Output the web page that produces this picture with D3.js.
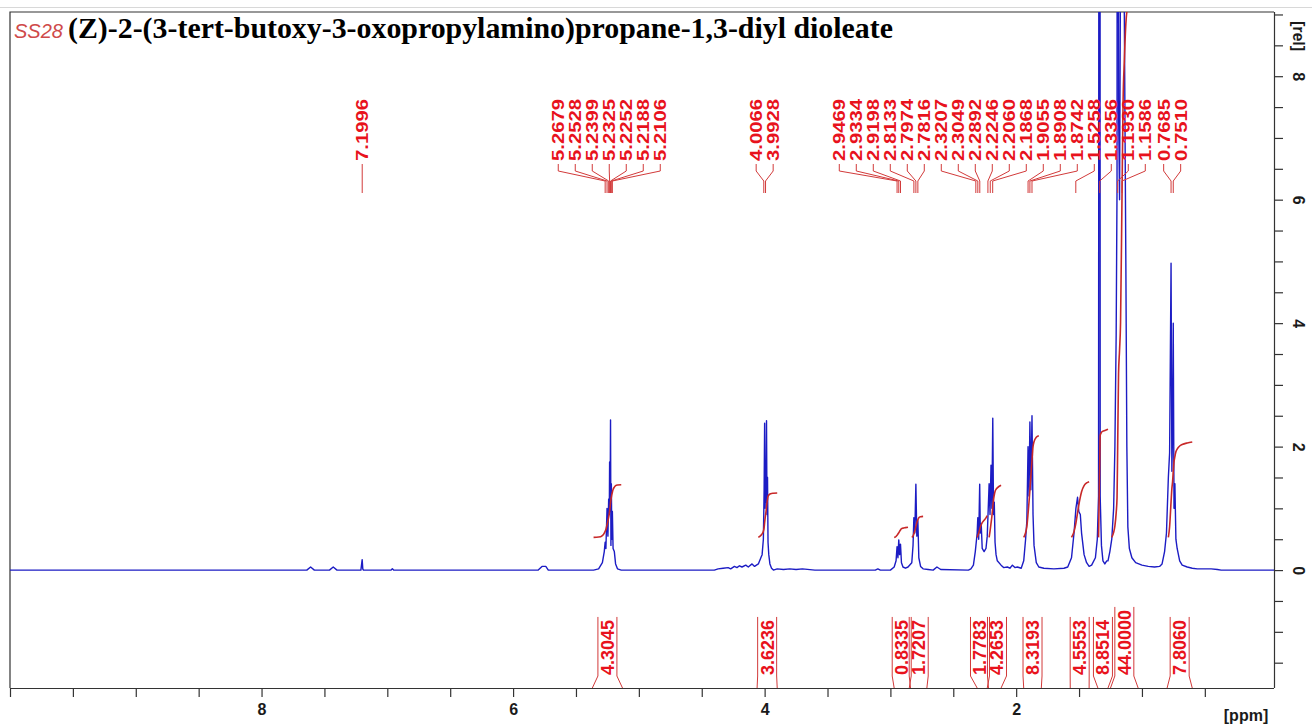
<!DOCTYPE html>
<html>
<head>
<meta charset="utf-8">
<script src="https://cdn.jsdelivr.net/npm/d3@7"></script>
<style>
  body { margin: 0; background: #fff; }
  svg { display: block; }
</style>
</head>
<body>
<svg id="chart" width="1312" height="725"></svg>
<script>
// spectrum trace: [ppm, intensity (rel)]
const spectrum = [
    [10.0, 0], [7.64, 0], [7.61, 0.05], [7.58, 0], [7.46, 0], [7.43, 0.05], [7.40, 0],
    [7.21, 0], [7.2, 0.17], [7.195, 0.02], [7.19, 0], [6.97, 0], [6.96, 0.02], [6.95, 0],
    [5.80, 0], [5.77, 0.06], [5.74, 0.06], [5.72, 0],
    [5.36, 0], [5.32, 0.02], [5.29, 0.12], [5.275, 0.3], [5.268, 0.45], [5.262, 0.35], [5.253, 1.0],
    [5.246, 0.55], [5.240, 1.15], [5.235, 0.9], [5.2325, 1.75], [5.229, 0.95], [5.2252, 2.43],
    [5.222, 0.4], [5.2188, 1.4], [5.215, 0.5], [5.2106, 0.95], [5.205, 0.35], [5.195, 0.3],
    [5.185, 0.1], [5.17, 0.02], [5.14, 0],
    [4.40, 0], [4.37, 0.02], [4.33, 0.03], [4.29, 0.04], [4.27, 0.02], [4.24, 0.06], [4.22, 0.04],
    [4.20, 0.07], [4.18, 0.05], [4.15, 0.08], [4.13, 0.05], [4.10, 0.1], [4.08, 0.06], [4.05, 0.1],
    [4.03, 0.2], [4.02, 0.25], [4.01, 0.5], [4.004, 1.3], [4.0, 2.38], [3.996, 1.0], [3.992, 1.7],
    [3.989, 1.1], [3.985, 2.42], [3.981, 0.9], [3.977, 1.5], [3.973, 0.45], [3.967, 0.25],
    [3.958, 0.1], [3.945, 0.03], [3.93, 0], [3.90, 0.02], [3.85, 0.01], [3.80, 0.02], [3.75, 0.01],
    [3.70, 0.02], [3.6, 0], [3.12, 0], [3.10, 0.02], [3.08, 0],
    [3.00, 0], [2.97, 0.05], [2.955, 0.15], [2.947, 0.38], [2.940, 0.2], [2.9334, 0.49], [2.927, 0.25],
    [2.9198, 0.42], [2.912, 0.12], [2.90, 0.05], [2.88, 0.03], [2.86, 0.05],
    [2.83, 0.12], [2.82, 0.4], [2.8133, 0.85], [2.806, 0.6], [2.7974, 1.39], [2.790, 0.55],
    [2.7816, 0.8], [2.774, 0.2], [2.76, 0.06], [2.74, 0.02], [2.70, 0.01],
    [2.66, 0], [2.63, 0.05], [2.60, 0.01], [2.38, 0],
    [2.36, 0.02], [2.34, 0.08], [2.325, 0.3], [2.31, 0.6], [2.305, 0.85], [2.298, 0.5],
    [2.29, 1.39], [2.285, 0.6], [2.278, 0.75], [2.27, 0.35], [2.255, 0.3], [2.24, 0.35],
    [2.23, 0.55], [2.215, 1.4], [2.208, 0.9], [2.20, 1.7], [2.193, 1.0], [2.186, 2.46],
    [2.18, 0.9], [2.174, 1.1], [2.168, 0.45], [2.16, 0.25], [2.15, 0.15], [2.12, 0.08],
    [2.10, 0.04], [2.07, 0.05], [2.05, 0.03], [2.03, 0.08], [2.01, 0.04], [1.99, 0.05], [1.96, 0.03],
    [1.94, 0.15], [1.925, 0.5], [1.915, 0.8], [1.9055, 2.0], [1.898, 1.2], [1.8908, 2.4],
    [1.883, 1.3], [1.8742, 2.5], [1.866, 0.9], [1.858, 0.4], [1.84, 0.12], [1.82, 0.05],
    [1.78, 0.03], [1.70, 0.02], [1.62, 0.03],
    [1.59, 0.05], [1.56, 0.2], [1.54, 0.6], [1.525, 1.0], [1.512, 1.18], [1.502, 0.95],
    [1.49, 0.9], [1.48, 0.6], [1.46, 0.25], [1.44, 0.12], [1.42, 0.06], [1.40, 0.08],
    [1.37, 0.2], [1.355, 0.5], [1.345, 1.2], [1.3356, 40], [1.332, 1.2], [1.322, 0.4],
    [1.31, 0.15], [1.295, 0.1], [1.28, 0.15],
    [1.27, 0.15], [1.255, 0.3], [1.24, 0.5], [1.225, 1.0], [1.215, 2.0], [1.205, 3.8],
    [1.198, 6.2], [1.193, 40], [1.186, 7.5], [1.178, 6.0], [1.170, 10], [1.1586, 40],
    [1.150, 10], [1.14, 9], [1.128, 5], [1.12, 2.0], [1.112, 0.7], [1.10, 0.35], [1.08, 0.2],
    [1.05, 0.12], [1.0, 0.08], [0.95, 0.06], [0.90, 0.05], [0.86, 0.06],
    [0.84, 0.1], [0.82, 0.3], [0.805, 0.6], [0.79, 1.5], [0.78, 1.9], [0.7685, 4.97],
    [0.762, 1.6], [0.756, 2.3], [0.7510, 4.0], [0.745, 1.0], [0.738, 1.4], [0.73, 0.5],
    [0.72, 0.35], [0.70, 0.15], [0.68, 0.08], [0.64, 0.05], [0.60, 0.03], [0.56, 0.02],
    [0.45, 0.02], [0.40, 0.01], [0.37, 0], [-0.05, 0]
]

const peakLabels = [7.1996, 5.2679, 5.2528, 5.2399, 5.2325, 5.2252, 5.2188, 5.2106,
    4.0066, 3.9928, 2.9469, 2.9334, 2.9198, 2.8133, 2.7974, 2.7816, 2.3207, 2.3049,
    2.2892, 2.2246, 2.2060, 2.1868, 1.9055, 1.8908, 1.8742, 1.5258, 1.3356, 1.1930,
    1.1586, 0.7685, 0.7510]

const integralFrom = [5.37, 4.06, 2.97, 2.84, 2.31, 2.22, 1.94, 1.57, 1.35, 1.25, 0.80]
const integralTo = [5.13, 3.90, 2.85, 2.71, 2.23, 2.12, 1.80, 1.42, 1.27, 1.03, 0.60]
const integralValues = [4.3045, 3.6236, 0.8335, 1.7207, 1.7783, 4.2653, 8.3193, 4.5553, 8.8514, 44.0000, 7.8060]

const ppmTicks = d3.range(10, 0.49, -0.5)
const ppmLabels = [8, 6, 4, 2]
const relTicks = d3.range(-1.5, 9.01, 0.5)
const relLabels = [0, 2, 4, 6, 8]

const title = '(Z)-2-(3-tert-butoxy-3-oxopropylamino)propane-1,3-diyl dioleate'
const sampleName = 'SS28'

const svg = d3.select('#chart')
const pLeft = 10, pRight = 1274, pTop = 12, pBottom = 688

const x = d3.scaleLinear().domain([10.0, -0.05]).range([pLeft, pRight])
const y = d3.scaleLinear().domain([-1.91, 9.04]).range([pBottom, pTop])

svg.append('rect').attr('width', 1312).attr('height', 725).attr('fill', '#fff')
svg.append('line').attr('x1', 0).attr('x2', 1312).attr('y1', 7.5).attr('y2', 7.5)
    .attr('stroke', '#d8d8d8').attr('stroke-width', 1)

svg.append('defs').append('clipPath').attr('id', 'plotclip')
    .append('rect').attr('x', pLeft).attr('y', pTop).attr('width', pRight - pLeft).attr('height', pBottom - pTop)

// frame
svg.append('path')
    .attr('d', `M${pLeft},${pBottom}V${pTop}H${pRight}`)
    .attr('fill', 'none').attr('stroke', '#333').attr('stroke-width', 1.2)

// spectrum
const plot = svg.append('g').attr('clip-path', 'url(#plotclip)')
plot.append('path')
    .datum(spectrum)
    .attr('d', d3.line().x(d => x(d[0])).y(d => y(d[1])))
    .attr('fill', 'none')
    .attr('stroke', '#1c1cc4')
    .attr('stroke-width', 1.4)
    .attr('stroke-linejoin', 'round')

// integral curves (cumulative area of the trace)
const intOffset = 0.53, intScale = 0.198
integralValues.forEach((val, i) => {
    const pts = spectrum.filter(d => d[0] <= integralFrom[i] && d[0] >= integralTo[i])
    const cum = [0]
    for (let k = 1; k < pts.length; k++) {
        cum.push(cum[k - 1] + (pts[k - 1][0] - pts[k][0]) * (pts[k - 1][1] + pts[k][1]) / 2)
    }
    const total = cum[cum.length - 1] || 1
    const curve = pts.map((d, k) => [x(d[0]), y(intOffset + cum[k] / total * val * intScale)])
    plot.append('path')
        .datum(curve)
        .attr('d', d3.line().curve(d3.curveMonotoneX))
        .attr('fill', 'none')
        .attr('stroke', '#c82828')
        .attr('stroke-width', 1.6)
})

// spread labels so they do not overlap
function spread(targets, gap) {
    let cl = targets.map((t, i) => ({ idx: [i], sum: t, n: 1 }))
    const start = c => c.sum / c.n - (c.n - 1) * gap / 2
    let merged = true
    while (merged) {
        merged = false
        for (let i = 0; i < cl.length - 1; i++) {
            const a = cl[i], b = cl[i + 1]
            if (start(b) - (start(a) + (a.n - 1) * gap) < gap - 0.01) {
                a.idx = a.idx.concat(b.idx); a.sum += b.sum; a.n += b.n
                cl.splice(i + 1, 1); merged = true; break
            }
        }
    }
    const out = []
    cl.forEach(c => { const s = start(c); c.idx.forEach((k, j) => out[k] = s + j * gap) })
    return out
}

// peak labels
const peakX = peakLabels.map(p => x(p))
const labelX = spread(peakX, 17)
const pk = svg.append('g')
peakLabels.forEach((p, i) => {
    pk.append('path')
        .attr('d', `M${labelX[i]},164V171L${peakX[i]},181V193`)
        .attr('fill', 'none').attr('stroke', '#d23a3a').attr('stroke-width', 1)
    pk.append('text')
        .attr('transform', `translate(${labelX[i]},161) rotate(-90)`)
        .attr('dy', '0.36em')
        .attr('textLength', 62).attr('lengthAdjust', 'spacingAndGlyphs')
        .attr('font-family', 'Liberation Sans, Arial, sans-serif')
        .attr('font-weight', 'bold').attr('font-size', 17)
        .attr('fill', '#e8121c')
        .text(p.toFixed(4))
})

// integral labels
const intMid = integralValues.map((v, i) => x((integralFrom[i] + integralTo[i]) / 2))
const intLabelX = spread(intMid, 17)
const ig = svg.append('g')
integralValues.forEach((v, i) => {
    const txt = v.toFixed(4)
    const t = ig.append('text')
        .attr('transform', `translate(${intLabelX[i]},675) rotate(-90)`)
        .attr('dy', '0.36em')
        .attr('font-family', 'Liberation Sans, Arial, sans-serif')
        .attr('font-weight', 'bold').attr('font-size', 18)
        .attr('fill', '#e8121c')
        .text(txt)
    const len = t.node().getComputedTextLength()
    const yTop = 675 - len - 3
    const w = 9.5
    ig.append('path')
        .attr('d', `M${intLabelX[i] - w},${yTop}V676L${x(integralFrom[i])},${pBottom}` +
            `M${intLabelX[i] + w},${yTop}V676L${x(integralTo[i])},${pBottom}`)
        .attr('fill', 'none').attr('stroke', '#d23a3a').attr('stroke-width', 1)
})

// bottom axis
const xAxis = svg.append('g')
    .attr('transform', `translate(0,${pBottom})`)
    .call(d3.axisBottom(x).tickValues(ppmTicks).tickSize(9).tickSizeOuter(0)
        .tickFormat(d => ppmLabels.includes(d) ? d : ''))
xAxis.select('.domain').attr('d', `M${pLeft},0.5H${pRight}`).attr('stroke', '#333').attr('stroke-width', 1.2)
xAxis.selectAll('.tick line').attr('stroke', '#333').attr('stroke-width', 1.2)
xAxis.selectAll('.tick text')
    .attr('font-family', 'Liberation Sans, Arial, sans-serif')
    .attr('font-weight', 'bold').attr('font-size', 16).attr('fill', '#1a1a1a')
    .attr('y', 16)
svg.append('text')
    .attr('x', 1246).attr('y', 721).attr('text-anchor', 'middle')
    .attr('font-family', 'Liberation Sans, Arial, sans-serif')
    .attr('font-weight', 'bold').attr('font-size', 16).attr('fill', '#1a1a1a')
    .text('[ppm]')

// right axis
const yAxis = svg.append('g')
    .attr('transform', `translate(${pRight},0)`)
    .call(d3.axisRight(y).tickValues(relTicks).tickSize(9).tickSizeOuter(0)
        .tickFormat(d => relLabels.includes(d) ? d : ''))
yAxis.select('.domain').attr('d', `M0.5,${pTop}V${pBottom}`).attr('stroke', '#333').attr('stroke-width', 1.2)
yAxis.selectAll('.tick line').attr('stroke', '#333').attr('stroke-width', 1.2)
yAxis.selectAll('.tick text')
    .attr('x', null).attr('dy', null)
    .attr('transform', 'translate(19,0) rotate(90)')
    .attr('text-anchor', 'middle')
    .attr('font-family', 'Liberation Sans, Arial, sans-serif')
    .attr('font-weight', 'bold').attr('font-size', 16).attr('fill', '#1a1a1a')
svg.append('text')
    .attr('transform', `translate(${pRight + 19},36) rotate(90)`)
    .attr('text-anchor', 'middle')
    .attr('font-family', 'Liberation Sans, Arial, sans-serif')
    .attr('font-weight', 'bold').attr('font-size', 16).attr('fill', '#1a1a1a')
    .text('[rel]')

// title
svg.append('text')
    .attr('x', 14).attr('y', 38)
    .attr('font-family', 'Liberation Sans, Arial, sans-serif')
    .attr('font-style', 'italic').attr('font-size', 20)
    .attr('fill', '#cf4a4a')
    .text(sampleName)
const tt = svg.append('text')
    .attr('x', 68).attr('y', 38)
    .attr('font-family', 'Liberation Serif, Times New Roman, serif')
    .attr('font-weight', 'bold').attr('font-size', 25)
    .attr('fill', '#000')
    .text(title)
const tl = tt.node().getComputedTextLength()
tt.attr('font-size', 25 * 825 / tl)
</script>
</body>
</html>
